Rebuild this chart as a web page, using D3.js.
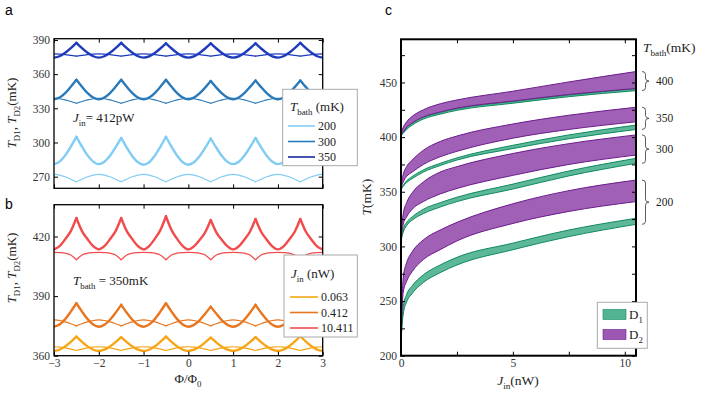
<!DOCTYPE html>
<html><head><meta charset="utf-8">
<script src="https://cdn.jsdelivr.net/npm/d3@7"></script>
<style>body{margin:0;background:#fff}svg{display:block}</style>
</head><body><svg id="chart" width="706" height="397"></svg>
<script>
// ---------- Panel a/b data (flux grid, Phi/Phi0) ----------
const phi = [-3,-2.875,-2.75,-2.625,-2.5,-2.375,-2.25,-2.125,-2,-1.875,-1.75,-1.625,-1.5,-1.375,-1.25,-1.125,-1,-0.875,-0.75,-0.625,-0.5,-0.375,-0.25,-0.125,0,0.125,0.25,0.375,0.5,0.625,0.75,0.875,1,1.125,1.25,1.375,1.5,1.625,1.75,1.875,2,2.125,2.25,2.375,2.5,2.625,2.75,2.875,3];

const aBathLabels = ["200","300","350"];
const a200thick = [281,283.2,288.7,296.4,305,296.4,288.7,283.2,281,283.1,288.4,295.7,304,295.5,288.0,282.6,280.5,282.7,288.3,296.2,305,296.2,288.3,282.7,280.5,282.6,287.9,295.2,303.5,295.4,288.2,283.0,281,283.1,288.4,295.7,304,295.7,288.4,283.1,281,283.0,288.2,295.4,303.5,295.4,288.2,283.0,281];
const a200thin = [272,271.4,269.9,267.8,265.5,267.8,269.9,271.4,272,271.4,269.9,267.8,265.5,267.8,269.9,271.4,272,271.4,269.9,267.8,265.5,267.8,269.9,271.4,272,271.4,269.9,267.8,265.5,267.8,269.9,271.4,272,271.4,269.9,267.8,265.5,267.8,269.9,271.4,272,271.4,269.9,267.8,265.5,267.8,269.9,271.4,272];
const a300thick = [338,339.5,343.4,348.9,355,348.9,343.4,339.5,338,339.5,343.4,348.9,355,348.9,343.4,339.5,338,339.5,343.4,348.9,355,348.9,343.4,339.5,338,339.4,343.1,348.2,354,348.2,343.1,339.4,338,339.5,343.3,348.6,354.5,348.6,343.3,339.5,338,339.5,343.3,348.6,354.5,348.6,343.3,339.5,338];
const a300thin = [338.8,338.4,337.4,336.0,334.4,336.0,337.4,338.4,338.8,338.4,337.4,336.0,334.4,336.0,337.4,338.4,338.8,338.4,337.4,336.0,334.4,336.0,337.4,338.4,338.8,338.4,337.4,336.0,334.4,336.0,337.4,338.4,338.8,338.4,337.4,336.0,334.4,336.0,337.4,338.4,338.8,338.4,337.4,336.0,334.4,336.0,337.4,338.4,338.8];
const a350thick = [374.5,375.7,378.7,382.8,387.5,382.8,378.7,375.7,374.5,375.7,378.7,382.8,387.5,382.8,378.7,375.7,374.5,375.6,378.5,382.5,387,382.5,378.5,375.6,374.5,375.6,378.5,382.5,387,382.5,378.5,375.6,374.5,375.6,378.5,382.5,387,382.5,378.5,375.6,374.5,375.7,378.7,382.8,387.5,382.8,378.7,375.7,374.5];
const a350thin = [377.8,377.6,377.2,376.5,375.8,376.5,377.2,377.6,377.8,377.6,377.2,376.5,375.8,376.5,377.2,377.6,377.8,377.6,377.2,376.5,375.8,376.5,377.2,377.6,377.8,377.6,377.2,376.5,375.8,376.5,377.2,377.6,377.8,377.6,377.2,376.5,375.8,376.5,377.2,377.6,377.8,377.6,377.2,376.5,375.8,376.5,377.2,377.6,377.8];

const bJinLabels = ["0.063","0.412","10.411"];
const b063thick = [362.4,363.0,364.7,367.0,369.6,367.0,364.7,363.0,362.4,363.0,364.6,366.8,369.3,366.8,364.6,363.0,362.4,363.0,364.7,367.0,369.6,367.0,364.7,363.0,362.4,363.0,364.5,366.7,369.1,366.7,364.5,363.0,362.4,363.0,364.6,366.8,369.3,366.8,364.6,363.0,362.4,363.1,364.8,367.1,369.8,367.1,364.8,363.1,362.4];
const b063thin = [364.5,364.3,363.9,363.3,362.6,363.3,363.9,364.3,364.5,364.3,363.9,363.3,362.6,363.3,363.9,364.3,364.5,364.3,363.9,363.3,362.6,363.3,363.9,364.3,364.5,364.3,363.9,363.3,362.6,363.3,363.9,364.3,364.5,364.3,363.9,363.3,362.6,363.3,363.9,364.3,364.5,364.3,363.9,363.3,362.6,363.3,363.9,364.3,364.5];
const b412thick = [374.6,375.7,378.4,382.2,386.4,382.2,378.4,375.7,374.6,375.6,378.1,381.6,385.6,381.6,378.1,375.6,374.6,375.7,378.4,382.2,386.4,382.2,378.4,375.7,374.6,375.5,377.8,381.1,384.7,381.1,377.8,375.5,374.6,375.6,378.1,381.6,385.6,381.6,378.1,375.6,374.6,375.5,377.9,381.3,385,381.3,377.9,375.5,374.6];
const b412thin = [378,377.7,377.0,376.1,375,376.1,377.0,377.7,378,377.7,377.0,376.1,375,376.1,377.0,377.7,378,377.7,377.0,376.1,375,376.1,377.0,377.7,378,377.7,377.0,376.1,375,376.1,377.0,377.7,378,377.7,377.0,376.1,375,376.1,377.0,377.7,378,377.7,377.0,376.1,375,376.1,377.0,377.7,378];
const b10411thick = [413.5,415.1,418.6,422.7,429.3,422.7,418.6,415.1,413.5,415.1,418.6,422.7,429.3,422.7,418.6,415.1,413.5,415.2,418.8,423.2,430.2,423.2,418.8,415.2,413.5,415.0,418.2,422.1,428.3,422.1,418.2,415.0,413.5,415.0,418.4,422.4,428.8,422.4,418.4,415.0,413.5,415.0,418.4,422.4,428.8,422.4,418.4,415.0,413.5];
const b10411thin = [412,411.9,411.6,410.7,408.3,410.7,411.6,411.9,412,411.9,411.6,410.7,408.3,410.7,411.6,411.9,412,411.9,411.6,410.7,408.3,410.7,411.6,411.9,412,411.9,411.6,410.7,408.3,410.7,411.6,411.9,412,411.9,411.6,410.7,408.3,410.7,411.6,411.9,412,411.9,411.6,410.7,408.3,410.7,411.6,411.9,412];

const aTicksY = [270,300,330,360,390];
const bTicksY = [360,390,420];
const abTicksX = [-3,-2,-1,0,1,2,3];

// ---------- Panel c data ----------
const jin = [0,0.02,0.05,0.1,0.25,0.5,1,1.75,2.5,5,7.5,10.5];
const cBaths = ["400","350","300","200"];
const d2hi400 = [400,404,406.5,409,414,419,425,430.5,434,442,450.5,460];
const d2lo400 = [400,402.2,403.6,405,409,413,418.5,423,426.5,433,439,444.5];
const d1hi400 = [400,402,403.2,404.5,408.5,412.5,418,422.5,426,432.5,438.5,444.2];
const d1lo400 = [400,401.6,402.5,403.5,407,411,416.5,421,424.5,431,437,442.5];
const d2hi350 = [350,357.2,361.5,366,373,379,388,396,401,412,420,427.3];
const d2lo350 = [350,354,356.5,359,364,368,375,382,387,399,407,414];
const d1hi350 = [350,352.7,354.3,356,360,364,370,376,381,392.5,402,411];
const d1lo350 = [350,352.2,353.6,355,358.5,362,368,374,379,389.5,398.5,407];
const d2hi300 = [300,313.5,321.6,330,340,349,359,368,373,385,394,402];
const d2lo300 = [300,309,314.4,320,327,334,341,348,353,365,375,383.6];
const d1hi300 = [300,307.2,311.5,316,322,327,334,340,345,357,369,380.6];
const d1lo300 = [300,305.8,309.4,313,319,324,330,336,341,352.5,364.5,376];
const d2hi200 = [200,232.4,251.8,272,285,295,306,315,322,339,351,360.7];
const d2lo200 = [200,226,241.8,258,268,277,288,297,305,321,332,341];
const d1hi200 = [200,220.3,232.4,245,256,264,274,283,290,303,315,325.7];
const d1lo200 = [200,217.1,227.4,238,249,257,267,276,283,297,309,320.2];
const cTicksY = [200,225,250,275,300,325,350,375,400,425,450,475];
const cTicksX = [0,2.5,5,7.5,10];

// ---------- drawing ----------
const svg = d3.select('#chart');
const serif = "'Liberation Serif','DejaVu Serif',serif";
const sans = "'Liberation Sans','DejaVu Sans',Arial,sans-serif";

function rich(sel, parts, size) {
  let shift = 0;
  parts.forEach(p => {
    const ts = sel.append('tspan').text(p.t);
    if (p.i) ts.attr('font-style', 'italic');
    const target = p.sub ? size * 0.32 : 0;
    if (target !== shift) { ts.attr('dy', target - shift); shift = target; }
    ts.attr('font-size', p.sub ? size * 0.68 : size);
  });
  return sel;
}
function txt(x, y, parts, size, anchor, rot) {
  const t = svg.append('text').attr('x', x).attr('y', y)
    .attr('font-family', serif).attr('font-size', size).attr('fill', '#222')
    .attr('text-anchor', anchor || 'start');
  if (rot) t.attr('transform', `rotate(${rot},${x},${y})`);
  return rich(t, parts, size);
}

const xA = d3.scaleLinear().domain([-3, 3]).range([54, 322.7]);
const yA = d3.scaleLinear().domain([259.8, 391.1]).range([188.3, 38.7]);
const yB = d3.scaleLinear().domain([360, 436]).range([355.7, 204.7]);
const xC = d3.scaleLinear().domain([0, 10.5]).range([401, 636]);
const yC = d3.scaleLinear().domain([200, 489.5]).range([355.7, 39.3]);

function frameAxes(x, y, yTicks, xTicks, showXLabels, sw, yfmt, xfmt) {
  const [x0, x1] = x.range(); const [y0, y1] = y.range();
  const style = g => {
    g.select('.domain').remove();
    g.selectAll('line').attr('stroke', '#000').attr('stroke-width', 1);
    g.selectAll('text').attr('font-family', serif).attr('font-size', 11.5).attr('fill', '#333');
  };
  svg.append('g').attr('transform', `translate(${x0},0)`)
    .call(d3.axisLeft(y).tickValues(yTicks).tickSize(-4).tickPadding(4).tickFormat(yfmt || d3.format('d'))).call(style);
  svg.append('g').attr('transform', `translate(${x1},0)`)
    .call(d3.axisRight(y).tickValues(yTicks).tickSize(-4).tickFormat('')).call(style);
  svg.append('g').attr('transform', `translate(0,${y1})`)
    .call(d3.axisTop(x).tickValues(xTicks).tickSize(-4).tickFormat('')).call(style);
  svg.append('g').attr('transform', `translate(0,${y0})`)
    .call(d3.axisBottom(x).tickValues(xTicks).tickSize(-4).tickPadding(3)
      .tickFormat(showXLabels ? (xfmt || d3.format('d')) : '')).call(style);
  svg.append('rect').attr('x', x0).attr('y', y1).attr('width', x1 - x0).attr('height', y0 - y1)
    .attr('fill', 'none').attr('stroke', '#000').attr('stroke-width', sw);
}

function clip(id, x, y) {
  const [x0, x1] = x.range(); const [y0, y1] = y.range();
  svg.append('clipPath').attr('id', id).append('rect')
    .attr('x', x0).attr('y', y1).attr('width', x1 - x0).attr('height', y0 - y1);
}
clip('clipA', xA, yA); clip('clipB', xA, yB); clip('clipC', xC, yC);

const cuts = [0, 4, 12, 20, 28, 36, 44, 48];
function flux(g, y, vals, color, w) {
  const line = d3.line().x(d => xA(d[0])).y(d => y(d[1])).curve(d3.curveMonotoneX);
  const pts = phi.map((p, i) => [p, vals[i]]);
  for (let k = 0; k < cuts.length - 1; k++) {
    g.append('path').attr('d', line(pts.slice(cuts[k], cuts[k + 1] + 1)))
      .attr('fill', 'none').attr('stroke', color).attr('stroke-width', w)
      .attr('stroke-linecap', 'round').attr('stroke-linejoin', 'round');
  }
}

// Panel a
const aColors = ["#80ccf5", "#2a7ab9", "#1e3bbd"];
const gA = svg.append('g').attr('clip-path', 'url(#clipA)');
[[a200thin, a200thick], [a300thin, a300thick], [a350thin, a350thick]].forEach((s, i) => {
  flux(gA, yA, s[0], aColors[i], 1.2);
  flux(gA, yA, s[1], aColors[i], 2.4);
});
frameAxes(xA, yA, aTicksY, abTicksX, false, 1.3);

// Panel b
const bColors = ["#f5a516", "#e8761f", "#f24b4b"];
const gB = svg.append('g').attr('clip-path', 'url(#clipB)');
[[b063thin, b063thick], [b412thin, b412thick], [b10411thin, b10411thick]].forEach((s, i) => {
  flux(gB, yB, s[0], bColors[i], 1.2);
  flux(gB, yB, s[1], bColors[i], 2.4);
});
frameAxes(xA, yB, bTicksY, abTicksX, true, 1.3);

// Panel c
const gC = svg.append('g').attr('clip-path', 'url(#clipC)');
const d1Fill = "#53b494", d1Edge = "#0f8a5f", d2Fill = "#9b57b1", d2Edge = "#6a1c8c";
const bands = [
  [d1lo200, d1hi200, d2lo200, d2hi200],
  [d1lo300, d1hi300, d2lo300, d2hi300],
  [d1lo350, d1hi350, d2lo350, d2hi350],
  [d1lo400, d1hi400, d2lo400, d2hi400]
];
const area = d3.area().x(d => xC(d[0])).y0(d => yC(d[1])).y1(d => yC(d[2])).curve(d3.curveMonotoneX);
const edge = d3.line().x(d => xC(d[0])).y(d => yC(d[1])).curve(d3.curveMonotoneX);
bands.forEach(b => {
  [[b[0], b[1], d1Fill, d1Edge], [b[2], b[3], d2Fill, d2Edge]].forEach(([lo, hi, f, e]) => {
    const pts = jin.map((j, i) => [j, lo[i], hi[i]]);
    gC.append('path').attr('d', area(pts)).attr('fill', f).attr('fill-opacity', 0.95);
    gC.append('path').attr('d', edge(jin.map((j, i) => [j, lo[i]]))).attr('fill', 'none').attr('stroke', e).attr('stroke-width', 1);
    gC.append('path').attr('d', edge(jin.map((j, i) => [j, hi[i]]))).attr('fill', 'none').attr('stroke', e).attr('stroke-width', 1);
  });
});
frameAxes(xC, yC, cTicksY, cTicksX, true, 2, d => d % 50 === 0 ? d : '', d => d % 5 === 0 ? d : '');

// braces panel c
bands.slice().reverse().forEach((b, i) => {
  const n = jin.length - 1;
  const top = yC(b[3][n]), bot = yC(b[0][n]);
  const x = 642, w = 7, r = 3, ym = (top + bot) / 2;
  const h = x + w / 2;
  svg.append('path').attr('d',
    `M${x},${top} Q${h},${top} ${h},${top + r} L${h},${ym - r} Q${h},${ym} ${x + w},${ym} Q${h},${ym} ${h},${ym + r} L${h},${bot - r} Q${h},${bot} ${x},${bot}`)
    .attr('fill', 'none').attr('stroke', '#333').attr('stroke-width', 0.8);
  txt(656, ym + 4, [{ t: cBaths[i] }], 11.5);
});
txt(643, 52, [{ t: 'T', i: true }, { t: 'bath', sub: true }, { t: '(mK)' }], 13.5);

// legends a
svg.append('rect').attr('x', 282.7).attr('y', 89.3).attr('width', 74.6).attr('height', 76.4)
  .attr('fill', '#fff').attr('stroke', '#aaa').attr('stroke-width', 1);
txt(290, 111, [{ t: 'T', i: true }, { t: 'bath', sub: true }, { t: ' (mK)' }], 13);
aBathLabels.forEach((l, i) => {
  const y = 126 + i * 15.5;
  svg.append('line').attr('x1', 288).attr('x2', 315).attr('y1', y).attr('y2', y)
    .attr('stroke', i === 2 ? '#1a2a9a' : aColors[i]).attr('stroke-width', 1.6);
  txt(318, y + 4, [{ t: l }], 12);
});
// legend b
svg.append('rect').attr('x', 284).attr('y', 255).attr('width', 73.3).attr('height', 82)
  .attr('fill', '#fff').attr('stroke', '#aaa').attr('stroke-width', 1);
txt(291, 278, [{ t: 'J', i: true }, { t: 'in', sub: true }, { t: ' (nW)' }], 13);
bJinLabels.forEach((l, i) => {
  const y = 297 + i * 15.5;
  svg.append('line').attr('x1', 290).attr('x2', 318).attr('y1', y).attr('y2', y)
    .attr('stroke', bColors[i]).attr('stroke-width', 1.6);
  txt(321, y + 4, [{ t: l }], 12);
});
// legend c
svg.append('rect').attr('x', 597.3).attr('y', 302.3).attr('width', 50).attr('height', 46)
  .attr('fill', '#fff').attr('stroke', '#aaa').attr('stroke-width', 1);
[["1", d1Fill, d1Edge], ["2", d2Fill, d2Edge]].forEach(([n, f, e], i) => {
  const y = 309.5 + i * 20;
  svg.append('rect').attr('x', 603).attr('y', y).attr('width', 23).attr('height', 10)
    .attr('fill', f).attr('stroke', e).attr('stroke-width', 0.6);
  txt(629, y + 9.5, [{ t: 'D' }, { t: n, sub: true }], 13);
});

// annotations & axis labels
txt(73, 122, [{ t: 'J', i: true }, { t: 'in', sub: true }, { t: '= 412pW' }], 13);
txt(73, 285, [{ t: 'T', i: true }, { t: 'bath', sub: true }, { t: ' = 350mK' }], 13);
txt(16, 113, [{ t: 'T', i: true }, { t: 'D1', sub: true }, { t: ', ' }, { t: 'T', i: true }, { t: 'D2', sub: true }, { t: '(mK)' }], 13, 'middle', -90);
txt(16, 268, [{ t: 'T', i: true }, { t: 'D1', sub: true }, { t: ', ' }, { t: 'T', i: true }, { t: 'D2', sub: true }, { t: '(mK)' }], 13, 'middle', -90);
txt(188, 383, [{ t: 'Φ/Φ' }, { t: '0', sub: true }], 13, 'middle');
txt(371, 197, [{ t: 'T', i: true }, { t: '(mK)' }], 13.5, 'middle', -90);
txt(518, 385, [{ t: 'J', i: true }, { t: 'in', sub: true }, { t: '(nW)' }], 13.5, 'middle');

// panel letters
[['a', 5, 15], ['b', 5, 209], ['c', 385, 15]].forEach(([l, x, y]) => {
  svg.append('text').attr('x', x).attr('y', y).text(l)
    .attr('font-family', sans).attr('font-size', 14).attr('fill', '#000');
});
</script>
</body></html>
